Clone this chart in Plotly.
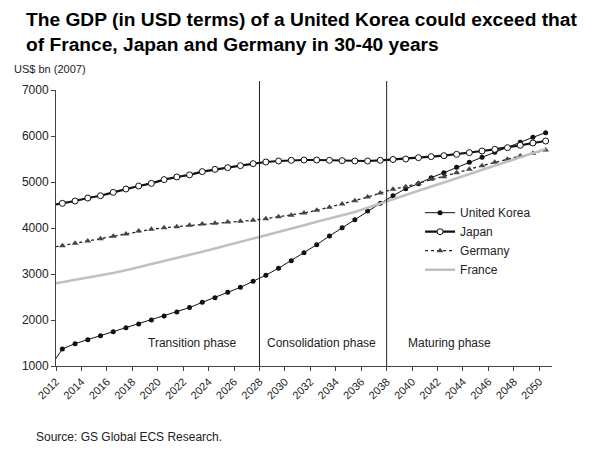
import plotly.graph_objects as go

# ---- data ----
years = list(range(2011, 2051))  # 2011 point only feeds the clipped line start

united_korea = [964, 1370, 1486, 1572, 1659, 1746, 1833, 1913, 2000, 2087,
                2174, 2270, 2384, 2486, 2601, 2710, 2840, 2975, 3125, 3290,
                3464, 3638, 3826, 4007, 4181, 4370, 4536, 4702, 4855, 4964,
                5094, 5203, 5319, 5428, 5536, 5645, 5746, 5862, 5971, 6072]

japan = [4490, 4536, 4587, 4652, 4702, 4775, 4848, 4913, 4971, 5051,
         5109, 5155, 5225, 5275, 5312, 5355, 5399, 5435, 5457, 5471,
         5478, 5478, 5471, 5464, 5457, 5457, 5472, 5490, 5500, 5529,
         5551, 5572, 5601, 5638, 5674, 5710, 5746, 5797, 5848, 5891]

germany = [3572, 3616, 3667, 3717, 3768, 3819, 3870, 3935, 3971, 4007,
           4029, 4058, 4087, 4101, 4130, 4145, 4167, 4203, 4246, 4275,
           4326, 4384, 4449, 4522, 4594, 4674, 4761, 4845, 4899, 4971,
           5058, 5116, 5203, 5275, 5355, 5428, 5493, 5565, 5623, 5696]

france = [2774, 2820, 2868, 2915, 2965, 3020, 3080, 3145, 3210, 3275,
          3345, 3415, 3485, 3555, 3625, 3695, 3770, 3840, 3915, 3985,
          4060, 4135, 4205, 4275, 4350, 4440, 4535, 4630, 4720, 4810,
          4900, 4990, 5080, 5170, 5260, 5350, 5440, 5530, 5625, 5720]

tick_years = list(range(2012, 2051, 2))
phase_breaks = [2028, 2038]
phases = ["Transition phase", "Consolidation phase", "Maturing phase"]
phase_centres = [2022.7, 2032.9, 2042.95]

title_lines = ["The GDP (in USD terms) of a United Korea could exceed that",
               "of France, Japan and Germany in 30-40 years"]

# points sit between tick marks (category-style axis)
x = [y + 0.5 for y in years]

FONT = "Liberation Sans, Arial, sans-serif"
TXT = "#222222"

fig = go.Figure()
fig.add_trace(go.Scatter(
    x=x, y=united_korea, name="United Korea", mode="lines+markers",
    line=dict(color="#111111", width=1),
    marker=dict(symbol="circle", size=5, color="#111111")))
fig.add_trace(go.Scatter(
    x=x, y=japan, name="Japan", mode="lines+markers",
    line=dict(color="#111111", width=2.2),
    marker=dict(symbol="circle", size=6, color="white",
                line=dict(color="#111111", width=1))))
fig.add_trace(go.Scatter(
    x=x, y=germany, name="Germany", mode="lines+markers",
    line=dict(color="#222222", width=1.3, dash="dot"),
    marker=dict(symbol="triangle-up", size=6, color="#444444")))
fig.add_trace(go.Scatter(
    x=x, y=france, name="France", mode="lines",
    line=dict(color="#c0c0c0", width=2.6)))

for b in phase_breaks:
    fig.add_shape(type="line", xref="x", yref="paper", x0=b, x1=b,
                  y0=0, y1=1.0326, line=dict(color="#222222", width=1))

for label, cx in zip(phases, phase_centres):
    fig.add_annotation(x=cx, y=1500, xref="x", yref="y", text=label,
                       showarrow=False, font=dict(size=12, color=TXT, family=FONT),
                       xanchor="center", yanchor="middle")

# title
fig.add_annotation(x=-0.0645, y=1.3007, xref="paper", yref="paper",
                   text="<b>" + "<br>".join(title_lines) + "</b>",
                   showarrow=False, xanchor="left", yanchor="top", align="left",
                   font=dict(size=19.2, color="#000000", family=FONT))

fig.add_annotation(x=-0.0887, y=1.076, xref="paper", yref="paper",
                   text="US$ bn (2007)", showarrow=False, xanchor="left",
                   yanchor="middle", font=dict(size=11, color=TXT, family=FONT))
fig.add_annotation(x=-0.0444, y=-0.257, xref="paper", yref="paper",
                   text="Source: GS Global ECS Research.", showarrow=False,
                   xanchor="left", yanchor="middle",
                   font=dict(size=12, color=TXT, family=FONT))

fig.update_layout(
    width=596, height=456,
    margin=dict(l=56, r=44, t=90, b=90),
    paper_bgcolor="white", plot_bgcolor="white",
    font=dict(family=FONT, size=12, color=TXT),
    showlegend=True,
    legend=dict(x=0.734, y=0.608, xanchor="left", yanchor="top",
                bgcolor="rgba(0,0,0,0)", font=dict(size=12, color=TXT),
                tracegroupgap=0),
    xaxis=dict(range=[2012, 2051], tickvals=tick_years, tickangle=-45,
               ticks="outside", ticklen=4, tickcolor="#444444",
               showline=True, linecolor="#444444", linewidth=1,
               showgrid=False, zeroline=False,
               tickfont=dict(size=11, color=TXT)),
    yaxis=dict(range=[1000, 7000], dtick=1000, tickformat="d",
               ticks="outside", ticklen=4, tickcolor="#444444",
               showline=True, linecolor="#444444", linewidth=1,
               showgrid=False, zeroline=False,
               tickfont=dict(size=12, color=TXT)),
)

fig.write_html("out.html")
